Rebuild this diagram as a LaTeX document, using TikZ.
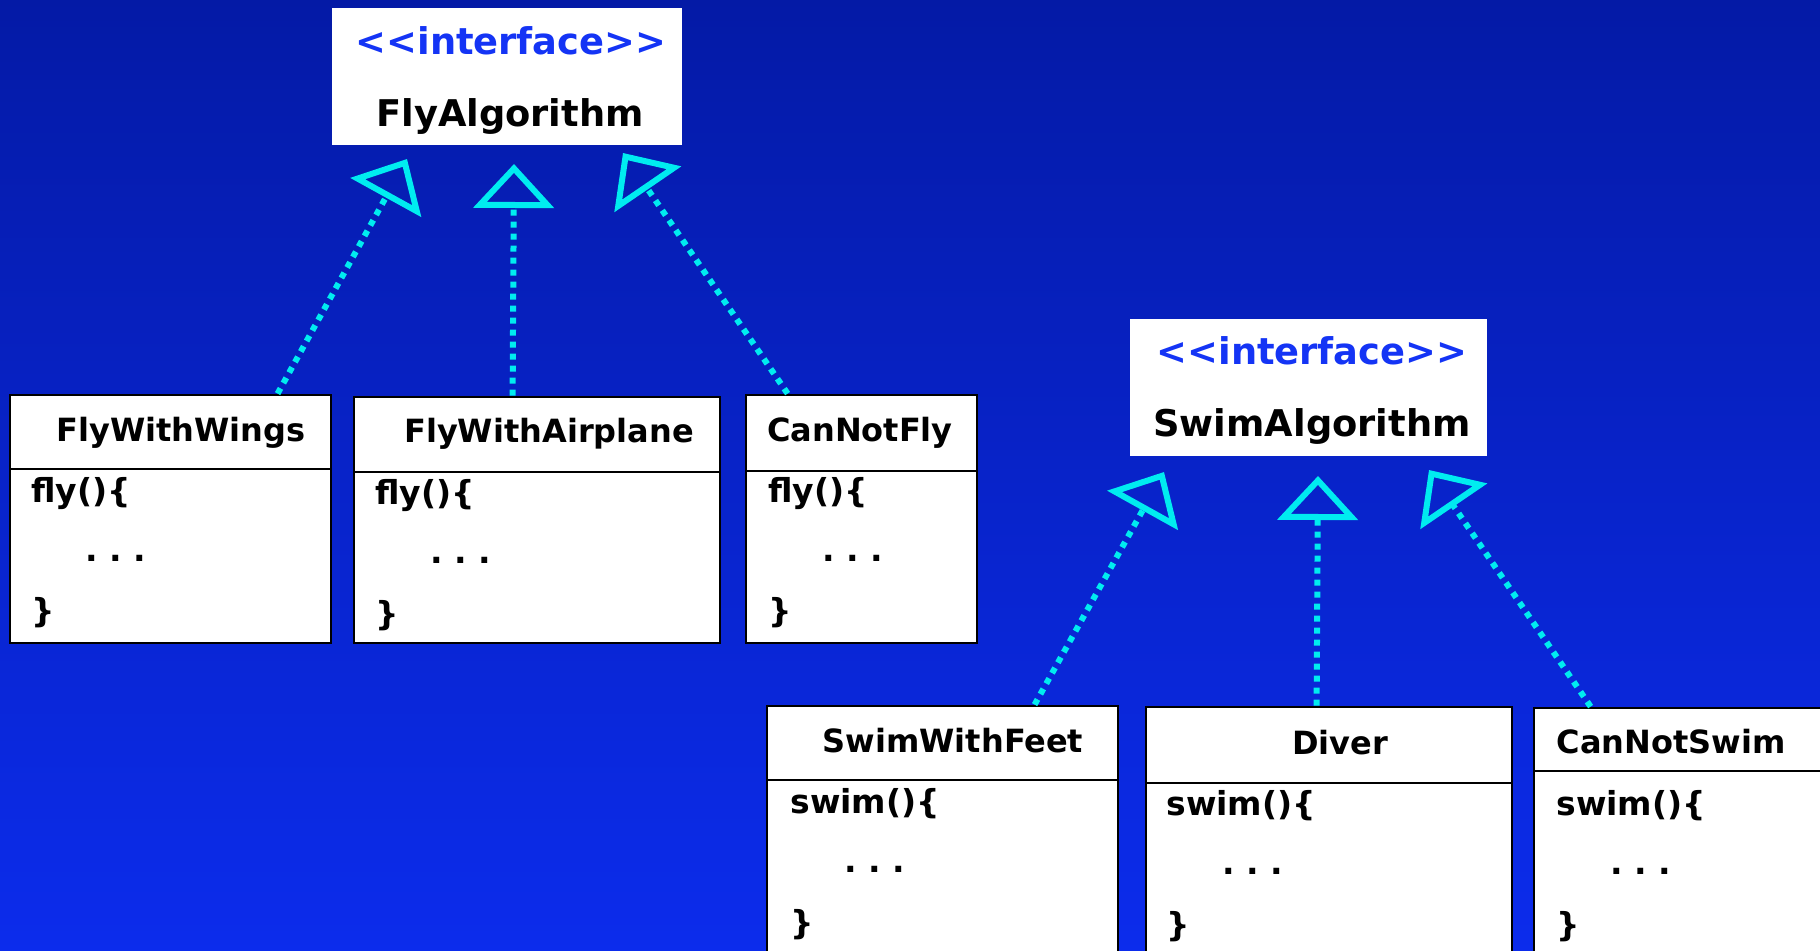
\documentclass[tikz,border=0pt]{standalone}
\usepackage{fontspec}
\setmainfont{DejaVu Sans}
\usetikzlibrary{arrows.meta,fit,calc}
\definecolor{bgtop}{RGB}{4,26,166}
\definecolor{bgbot}{RGB}{12,44,236}
\definecolor{cyanline}{RGB}{0,236,240}
\definecolor{ifblue}{RGB}{20,52,245}
\tikzset{
  ifbox/.style={fill=white, draw=none, inner sep=0pt},
  clsbox/.style={fill=white, draw=black, line width=1.4pt, inner sep=0pt},
  divline/.style={draw=black, line width=1.1pt},
  stereo/.style={anchor=base, inner sep=0pt, text=ifblue, font=\bfseries\fontsize{18.4}{22}\selectfont},
  ifname/.style={anchor=base, inner sep=0pt, text=black, font=\bfseries\fontsize{18.4}{22}\selectfont},
  clsname/.style={anchor=base, inner sep=0pt, text=black, font=\bfseries\fontsize{16}{19}\selectfont},
  codeline/.style={anchor=base west, inner sep=0pt, text=black, font=\bfseries\fontsize{16.5}{20}\selectfont},
  impl/.style={draw=cyanline, line width=3pt, dash pattern=on 3pt off 3pt,
    -{Triangle[open,length=22pt,width=40pt]}},
}
\newcommand{\dotsline}{.\ .\ .}
\newcommand{\stereotxt}{{<}{<}interface{>}{>}}
\begin{document}
\begin{tikzpicture}[x=0.5pt,y=-0.5pt]
\useasboundingbox (0,0) rectangle (1820,951);
\shade[top color=bgtop, bottom color=bgbot] (0,0) rectangle (1820,951);
\begin{scope}
\clip (0,0) rectangle (1820,951);

% interfaces
\node[ifbox, fit={(332,8) (682,145)}] (fly) {};
\node[stereo] (flys) at (511,55) {\stereotxt};
\node[ifname] (flyn) at (510,127) {FlyAlgorithm};

\node[ifbox, fit={(1130,319) (1487,456)}] (swim) {};
\node[stereo] (swims) at (1312,365) {\stereotxt};
\node[ifname] (swimn) at (1312,437) {SwimAlgorithm};

% FlyWithWings
\node[clsbox, fit={(10,395) (331,643)}] (fww) {};
\draw[divline] (10,469) -- (331,469);
\node[clsname] (fwwt) at (181,442) {FlyWithWings};
\node[codeline] (fww1) at (31,503) {fly()\{};
\node[codeline] (fww2) at (85,562) {\dotsline};
\node[codeline] (fww3) at (31,623) {\}};

% FlyWithAirplane
\node[clsbox, fit={(354,397) (720,643)}] (fwa) {};
\draw[divline] (354,472) -- (720,472);
\node[clsname] (fwat) at (549,443) {FlyWithAirplane};
\node[codeline] (fwa1) at (375,505) {fly()\{};
\node[codeline] (fwa2) at (430,564) {\dotsline};
\node[codeline] (fwa3) at (375,625) {\}};

% CanNotFly
\node[clsbox, fit={(746,395) (977,643)}] (cnf) {};
\draw[divline] (746,471) -- (977,471);
\node[clsname] (cnft) at (860,442) {CanNotFly};
\node[codeline] (cnf1) at (768,503) {fly()\{};
\node[codeline] (cnf2) at (822,562) {\dotsline};
\node[codeline] (cnf3) at (768,623) {\}};

% SwimWithFeet
\node[clsbox, fit={(767,706) (1118,1000)}] (swf) {};
\draw[divline] (767,780) -- (1118,780);
\node[clsname] (swft) at (953,752) {SwimWithFeet};
\node[codeline] (swf1) at (790,813) {swim()\{};
\node[codeline] (swf2) at (844,872) {\dotsline};
\node[codeline] (swf3) at (790,934) {\}};

% Diver
\node[clsbox, fit={(1146,707) (1512,1000)}] (div) {};
\draw[divline] (1146,783) -- (1512,783);
\node[clsname] (divt) at (1340,754) {Diver};
\node[codeline] (div1) at (1166,815) {swim()\{};
\node[codeline] (div2) at (1222,874) {\dotsline};
\node[codeline] (div3) at (1166,936) {\}};

% CanNotSwim
\node[clsbox, fit={(1534,708) (1900,1000)}] (cns) {};
\draw[divline] (1534,771) -- (1900,771);
\node[clsname] (cnst) at (1671,753) {CanNotSwim};
\node[codeline] (cns1) at (1556,815) {swim()\{};
\node[codeline] (cns2) at (1610,874) {\dotsline};
\node[codeline] (cns3) at (1556,936) {\}};

% arrow tips
\coordinate (t1) at (407,159);
\coordinate (t2) at (514,164);
\coordinate (t3) at (623,153);
\coordinate (t4) at (1164,472);
\coordinate (t5) at (1318,476);
\coordinate (t6) at (1429,470);

% realizations
\draw[impl] ($(fww.north west)+(269,0)$) -- (t1);
\draw[impl] ($(fwa.north west)+(160,0)$) -- (t2);
\draw[impl] ($(cnf.north west)+(43,0)$) -- (t3);
\draw[impl] ($(swf.north west)+(269,0)$) -- (t4);
\draw[impl] ($(div.north west)+(172,0)$) -- (t5);
\draw[impl] ($(cns.north west)+(58,0)$) -- (t6);
\end{scope}
\end{tikzpicture}
\end{document}
